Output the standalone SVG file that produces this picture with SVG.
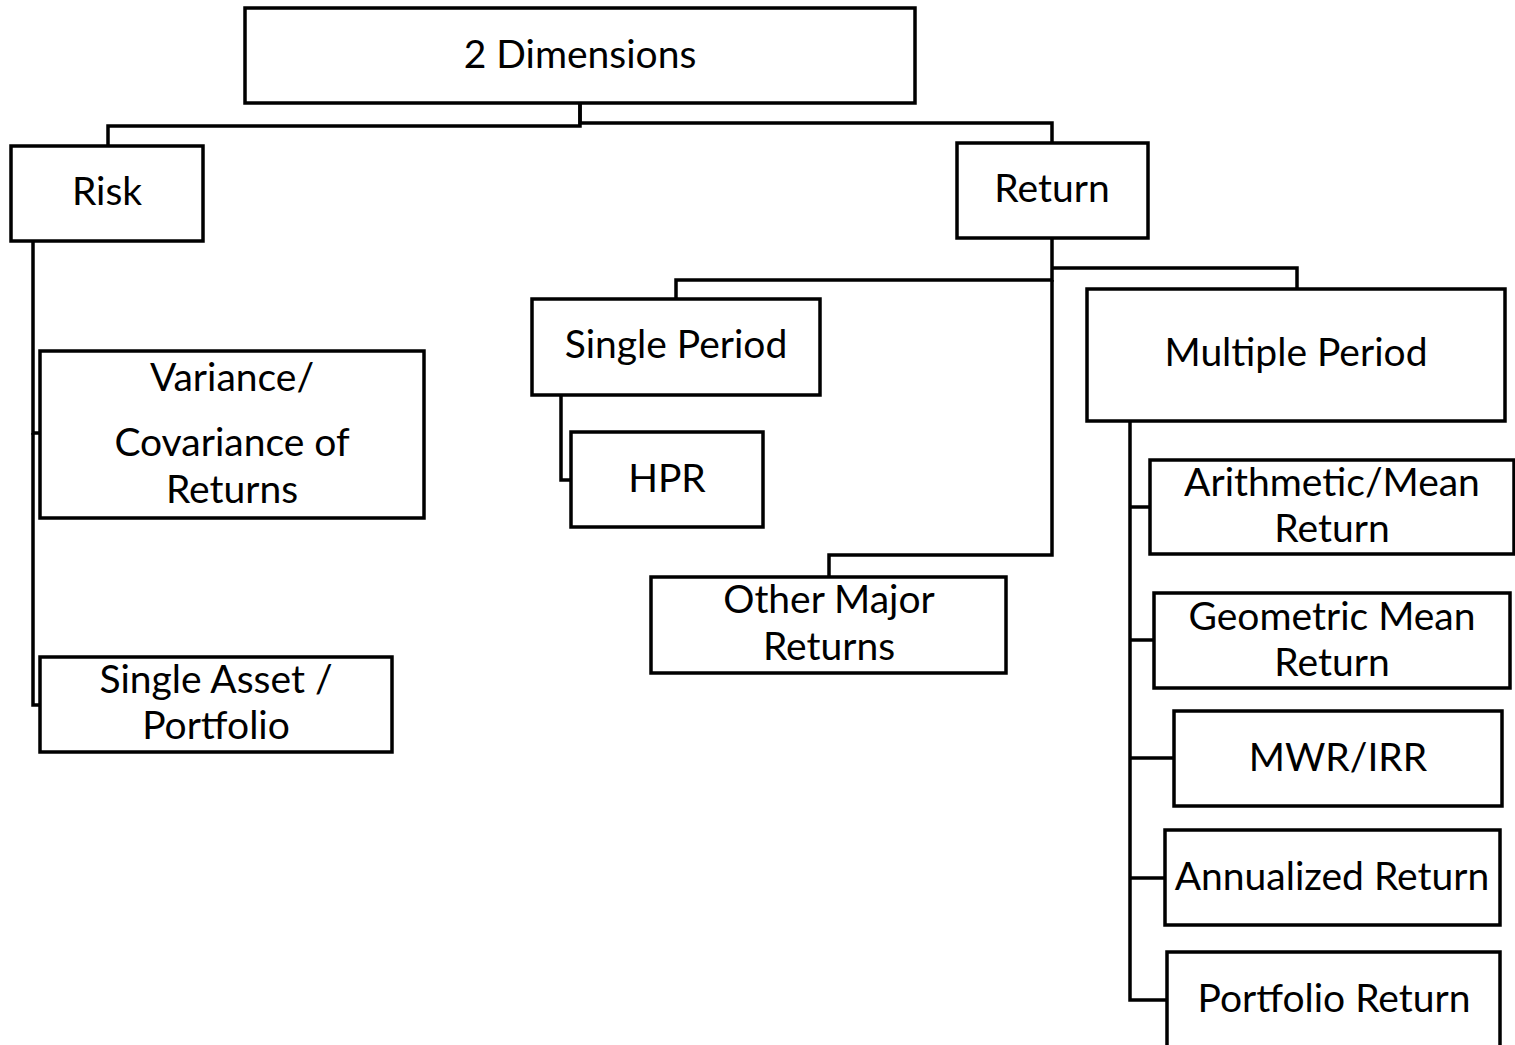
<svg xmlns="http://www.w3.org/2000/svg" width="1515" height="1045" viewBox="0 0 1515 1045">
  <style>
    .box { fill: #ffffff; stroke: #000000; stroke-width: 3.5; }
    .lbl { font-family: Lato, "Liberation Sans", sans-serif; font-size: 39px; fill: #000000; text-anchor: middle; }
    .wire { fill: none; stroke: #000000; stroke-width: 3.5; stroke-linejoin: miter; }
  </style>
  <rect width="1515" height="1045" fill="#ffffff"/>

  <!-- connectors -->
  <g id="connectors" class="wire">
    <path d="M580,103 V126 H108 V146"/>
    <path d="M580,103 V123 H1052 V143"/>
    <path d="M33,241 V433 H40"/>
    <path d="M33,433 V705 H40"/>
    <path d="M1052,238 V280 H676 V299"/>
    <path d="M1052,268 H1297 V289"/>
    <path d="M1052,280 V555 H829 V577"/>
    <path d="M561,395 V480 H571"/>
    <path d="M1130,421 V1000 H1167"/>
    <path d="M1130,507 H1150"/>
    <path d="M1130,640 H1154"/>
    <path d="M1130,758 H1174"/>
    <path d="M1130,878 H1165"/>
  </g>

  <g id="node-dimensions">
    <rect class="box" x="245" y="8" width="670" height="95"/>
    <text class="lbl" x="580" y="68">2 Dimensions</text>
  </g>
  <g id="node-risk">
    <rect class="box" x="11" y="146" width="192" height="95"/>
    <text class="lbl" x="107" y="205">Risk</text>
  </g>
  <g id="node-return">
    <rect class="box" x="957" y="143" width="191" height="95"/>
    <text class="lbl" x="1052" y="202">Return</text>
  </g>
  <g id="node-variance">
    <rect class="box" x="40" y="351" width="384" height="167"/>
    <text class="lbl" x="232" y="391">Variance/</text>
    <text class="lbl" x="232" y="456">Covariance of</text>
    <text class="lbl" x="232" y="503">Returns</text>
  </g>
  <g id="node-single-asset">
    <rect class="box" x="40" y="657" width="352" height="95"/>
    <text class="lbl" x="216" y="693">Single Asset /</text>
    <text class="lbl" x="216" y="739">Portfolio</text>
  </g>
  <g id="node-single-period">
    <rect class="box" x="532" y="299" width="288" height="96"/>
    <text class="lbl" x="676" y="358">Single Period</text>
  </g>
  <g id="node-hpr">
    <rect class="box" x="571" y="432" width="192" height="95"/>
    <text class="lbl" x="667" y="492">HPR</text>
  </g>
  <g id="node-other-major">
    <rect class="box" x="651" y="577" width="355" height="96"/>
    <text class="lbl" x="829" y="613">Other Major</text>
    <text class="lbl" x="829" y="660">Returns</text>
  </g>
  <g id="node-multiple-period">
    <rect class="box" x="1087" y="289" width="418" height="132"/>
    <text class="lbl" x="1296" y="366">Multiple Period</text>
  </g>
  <g id="node-arithmetic">
    <rect class="box" x="1150" y="460" width="364" height="94"/>
    <text class="lbl" x="1332" y="496">Arithmetic/Mean</text>
    <text class="lbl" x="1332" y="542">Return</text>
  </g>
  <g id="node-geometric">
    <rect class="box" x="1154" y="593" width="356" height="95"/>
    <text class="lbl" x="1332" y="630">Geometric Mean</text>
    <text class="lbl" x="1332" y="676">Return</text>
  </g>
  <g id="node-mwr">
    <rect class="box" x="1174" y="711" width="328" height="95"/>
    <text class="lbl" x="1338" y="771">MWR/IRR</text>
  </g>
  <g id="node-annualized">
    <rect class="box" x="1165" y="830" width="335" height="95"/>
    <text class="lbl" x="1332" y="890">Annualized Return</text>
  </g>
  <g id="node-portfolio-return">
    <rect class="box" x="1167" y="952" width="333" height="100"/>
    <text class="lbl" x="1334" y="1012">Portfolio Return</text>
  </g>
</svg>
